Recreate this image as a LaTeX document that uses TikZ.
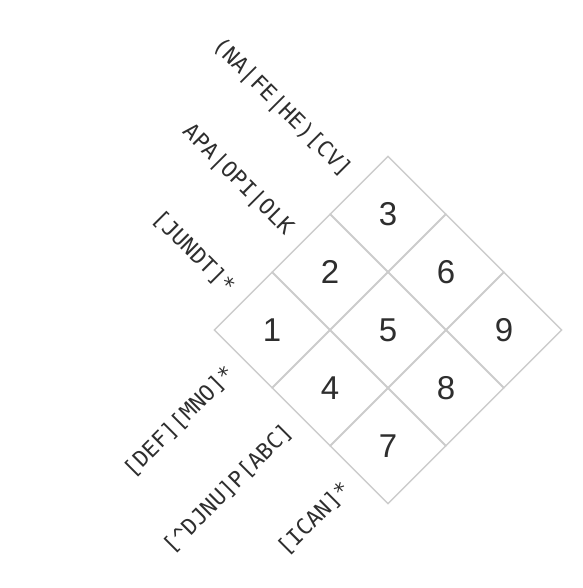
\documentclass[tikz,border=0pt]{standalone}
\usepackage{fontspec}
\setmainfont{Liberation Sans}
\newfontfamily\labfont{DejaVu Sans Mono}
\usetikzlibrary{shapes.geometric}
\definecolor{gridgray}{HTML}{CCCCCC}
\definecolor{numgray}{HTML}{2E2E2E}
\definecolor{labgray}{HTML}{2E2E2E}
\tikzset{
  cell/.style={draw=gridgray, line width=1.4pt, shape=diamond, aspect=1,
    minimum width=116pt, minimum height=116pt, inner sep=0pt,
    text=numgray, font=\fontsize{33}{33}\selectfont},
  toplab/.style={rotate=-45, anchor=east, inner sep=0pt, text=labgray,
    font=\labfont\fontsize{22}{22}\selectfont},
  botlab/.style={rotate=45, anchor=east, inner sep=0pt, text=labgray,
    font=\labfont\fontsize{22}{22}\selectfont}
}
\begin{document}
\begin{tikzpicture}[x=1pt,y=-1pt]
\useasboundingbox (0,0) rectangle (582,588);
\node[cell] (c1) at (272,330) {1};
\node[cell] (c2) at (330,272) {2};
\node[cell] (c3) at (388,214) {3};
\node[cell] (c4) at (330,388) {4};
\node[cell] (c5) at (388,330) {5};
\node[cell] (c6) at (446,272) {6};
\node[cell] (c7) at (388,446) {7};
\node[cell] (c8) at (446,388) {8};
\node[cell] (c9) at (504,330) {9};
\node[toplab] (t1) at (231,290) {[JUNDT]*};
\node[toplab] (t2) at (289,232) {APA|OPI|OLK};
\node[toplab] (t3) at (347,174) {(NA|FE|HE)[CV]};
\node[botlab] (b1) at (231,370) {[DEF][MNO]*};
\node[botlab] (b4) at (289,428) {[\textasciicircum DJNU]P[ABC]};
\node[botlab] (b7) at (347,486) {[ICAN]*};
\end{tikzpicture}
\end{document}
